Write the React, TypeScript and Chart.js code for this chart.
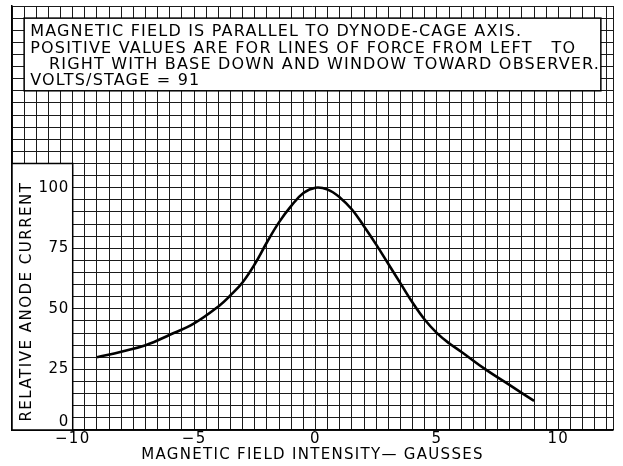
import React, { useEffect, useRef } from 'react';
import { Chart, registerables } from 'chart.js';

Chart.register(...registerables);

// Magnetic field intensity (gausses) and relative anode current (%)
const fieldGauss = [-9, -8, -7, -6, -5, -4, -3.5, -3, -2.5, -2, -1.5, -1, -0.5, 0, 0.5, 1, 1.5, 2, 2.5, 3, 3.5, 4, 4.5, 5, 5.5, 6, 7, 8, 9];
const relativeCurrent = [30, 32.3, 35, 39.3, 44, 51, 55.6, 61, 68.5, 77.5, 85.8, 92.5, 97.8, 100, 99.2, 96, 91, 84, 76.5, 68.5, 60.5, 52.5, 45.5, 40, 35.8, 32.3, 25, 18.5, 12];

const xTickLabels = [-10, -5, 0, 5, 10];
const yTickLabels = [0, 25, 50, 75, 100];

const xTitle = 'MAGNETIC FIELD INTENSITY\u2014 GAUSSES';
const yTitle = 'RELATIVE ANODE CURRENT';
const noteLines = [
  'MAGNETIC FIELD IS PARALLEL TO DYNODE-CAGE AXIS.',
  'POSITIVE VALUES ARE FOR LINES OF FORCE FROM LEFT   TO',
  '   RIGHT WITH BASE DOWN AND WINDOW TOWARD OBSERVER.',
  'VOLTS/STAGE = 91',
];

const X_MIN = -12.5;
const X_MAX = 12.25;
const Y_MIN = 0;
const Y_MAX = 175;

const FONT = '"DejaVu Sans", "Liberation Sans", sans-serif';

export default function App() {
  const ref = useRef<HTMLCanvasElement | null>(null);

  useEffect(() => {
    document.body.style.margin = '0';
    const canvas = ref.current;
    if (!canvas) return;

    const overlay = {
      id: 'overlay',
      beforeDraw(chart: any) {
        (chart.ctx as any).letterSpacing = '1.3px';
      },
      beforeDatasetsDraw(chart: any) {
        const ctx = chart.ctx;
        const xs = chart.scales.x;
        const ys = chart.scales.y;
        ctx.save();
        // y-label box
        const lx0 = xs.getPixelForValue(X_MIN);
        const lx1 = xs.getPixelForValue(-10);
        const ly0 = ys.getPixelForValue(110);
        const ly1 = ys.getPixelForValue(0);
        ctx.fillStyle = '#fff';
        ctx.fillRect(lx0, ly0, lx1 - lx0, ly1 - ly0);
        ctx.strokeStyle = '#000';
        ctx.lineWidth = 1.5;
        ctx.strokeRect(lx0, ly0, lx1 - lx0, ly1 - ly0);
        // note box
        const nx0 = xs.getPixelForValue(-12);
        const nx1 = xs.getPixelForValue(11.75);
        const ny0 = ys.getPixelForValue(170);
        const ny1 = ys.getPixelForValue(140);
        ctx.fillStyle = '#fff';
        ctx.fillRect(nx0, ny0, nx1 - nx0, ny1 - ny0);
        ctx.strokeRect(nx0, ny0, nx1 - nx0, ny1 - ny0);
        ctx.restore();
      },
      afterDraw(chart: any) {
        const ctx = chart.ctx;
        const xs = chart.scales.x;
        const ys = chart.scales.y;
        ctx.save();
        ctx.fillStyle = '#000';
        // y tick labels
        ctx.font = `15px ${FONT}`;
        (ctx as any).letterSpacing = '0.5px';
        ctx.textAlign = 'right';
        ctx.textBaseline = 'middle';
        const bottom = ys.getPixelForValue(0);
        yTickLabels.forEach((v) => {
          const py = Math.min(ys.getPixelForValue(v), bottom - 8);
          ctx.fillText(String(v), xs.getPixelForValue(-10) - 4, py);
        });
        // y title
        ctx.save();
        ctx.translate(xs.getPixelForValue(X_MIN) + 15, ys.getPixelForValue(53));
        ctx.rotate(-Math.PI / 2);
        ctx.textAlign = 'center';
        ctx.font = `15px ${FONT}`;
        (ctx as any).letterSpacing = '1.5px';
        ctx.fillText(yTitle, 0, 0);
        ctx.restore();
        // note text
        ctx.font = `16px ${FONT}`;
        (ctx as any).letterSpacing = '1.2px';
        ctx.textAlign = 'left';
        ctx.textBaseline = 'middle';
        const tx = xs.getPixelForValue(-12) + 6;
        const ty0 = ys.getPixelForValue(164.2);
        noteLines.forEach((line, i) => {
          ctx.fillText(line, tx, ty0 + i * 16.3);
        });
        ctx.restore();
        (ctx as any).letterSpacing = '0px';
      },
    };

    const gridTicksX: number[] = [];
    for (let v = X_MIN; v <= 12; v += 0.5) gridTicksX.push(v);
    gridTicksX.push(X_MAX);
    const gridTicksY: number[] = [];
    for (let v = Y_MIN; v <= Y_MAX; v += 5) gridTicksY.push(v);

    const chart = new Chart(canvas, {
      type: 'line',
      data: {
        datasets: [
          {
            data: fieldGauss.map((x, i) => ({ x, y: relativeCurrent[i] })),
            borderColor: '#000',
            borderWidth: 2.6,
            pointRadius: 0,
            tension: 0.4,
            fill: false,
          },
        ],
      },
      options: {
        responsive: false,
        animation: false,
        layout: { padding: { left: 12, right: 10, top: 6, bottom: 0 } },
        plugins: { legend: { display: false }, tooltip: { enabled: false } },
        scales: {
          x: {
            type: 'linear',
            min: X_MIN,
            max: X_MAX,
            afterBuildTicks: (s: any) => {
              s.ticks = gridTicksX.map((value) => ({ value }));
            },
            afterFit: (s: any) => {
              s.height = 36;
            },
            grid: { color: '#1a1a1a', lineWidth: 1, drawTicks: false },
            border: { display: true, color: '#000', width: 1.5 },
            ticks: {
              autoSkip: false,
              maxRotation: 0,
              padding: 0,
              color: '#000',
              font: { family: FONT, size: 15 },
              callback: (v: any) => {
                const n = Number(v);
                return xTickLabels.includes(n) ? (n < 0 ? '\u2212' + Math.abs(n) : String(n)) : '';
              },
            },
            title: {
              display: true,
              text: xTitle,
              color: '#000',
              font: { family: FONT, size: 15 },
              padding: { top: 0, bottom: 2 },
            },
          },
          y: {
            type: 'linear',
            min: Y_MIN,
            max: Y_MAX,
            afterBuildTicks: (s: any) => {
              s.ticks = gridTicksY.map((value) => ({ value }));
            },
            grid: { color: '#1a1a1a', lineWidth: 1, drawTicks: false },
            border: { display: true, color: '#000', width: 1.5 },
            ticks: { display: false },
          },
        },
      },
      plugins: [overlay],
    } as any);

    return () => chart.destroy();
  }, []);

  return (
    <div style={{ width: 623, height: 466, background: '#fff' }}>
      <canvas ref={ref} width={623} height={466} />
    </div>
  );
}
